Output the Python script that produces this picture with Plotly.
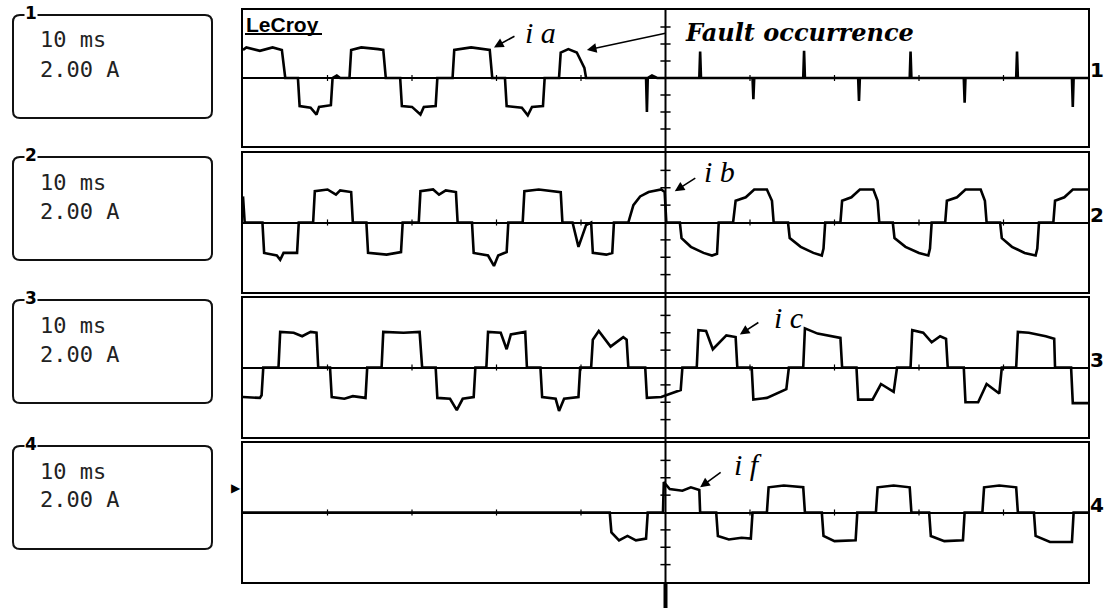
import plotly.graph_objects as go

# ---------------- data (time in ms, current in A; 10 ms/div, 2 A/div) ----------------
t_a = [-50, -49.6, -48, -46.5, -45.4, -45.0, -43.5, -43.3, -42, -41.3, -41.0, -39.6, -39.4, -38.9, -38.5,
       -37.4, -37.2, -36, -34, -33.4, -33.1, -31.4, -31.2, -30, -29.0, -28.6, -27.2, -27.0, -25.2, -25.0,
       -23, -20.8, -20.5, -19.0, -18.8, -17, -16.3, -15.8, -14.5, -14.3, -12.6, -12.4, -11.5, -10.5, -9.6,
       -9.4, -2.3, -2.2, -2.1, -1.6, -1.0,
       4.0, 4.1, 4.2, 10.3, 10.4, 10.5, 16.3, 16.4, 16.5, 22.8, 22.9, 23.0, 28.9, 29.0, 29.1,
       35.3, 35.4, 35.5, 41.5, 41.6, 41.7, 48.1, 48.2, 48.3, 50]
i_a = [3.3, 3.6, 3.2, 3.6, 3.3, 0, 0, -3.3, -3.5, -4.3, -3.4, -3.2, 0, 0.3, 0,
       0, 3.3, 3.6, 3.4, 3.3, 0, 0, -3.3, -3.4, -4.3, -3.4, -3.3, 0, 0, 3.3,
       3.6, 3.3, 0, 0, -3.3, -3.5, -4.4, -3.4, -3.3, 0, 0, 3.0, 3.4, 3.0, 1.2,
       0, 0, -4.0, 0, 0.3, 0,
       0, 3.1, 0, 0, -2.5, 0, 0, 3.2, 0, 0, -2.7, 0, 0, 3.1, 0,
       0, -2.9, 0, 0, 3.1, 0, 0, -3.4, 0, 0]

t_b = [-50, -49.8, -47.7, -47.5, -46, -45.6, -45.2, -43.6, -43.4, -41.7, -41.5, -40, -39, -38.5, -37.2,
       -37.0, -35.4, -35.2, -33, -31.3, -31.1, -29.2, -29.0, -27.5, -26.8, -26, -24.8, -24.6, -22.9, -22.7,
       -21, -20.3, -19.8, -18.8, -18.6, -16.9, -16.7, -15, -12.4, -12.2, -11.0, -10.3, -9.4, -8.8, -8.6,
       -7, -6.3, -6.1, -4.4, -3.8, -3.0, -2.0, -0.5, -0.1, 0.1,
       1.7, 1.9, 3, 4.5, 5.5, 6.1, 6.3, 8.0, 8.3, 9.5, 10.5, 12.0, 12.6, 12.8,
       14.5, 14.7, 16, 17.5, 18.5, 18.7, 18.9, 20.7, 20.9, 22, 23, 24.6, 25.1, 25.3,
       26.9, 27.1, 28.4, 30, 31.1, 31.3, 31.5, 33.1, 33.3, 34.5, 35.5, 37.3, 37.8, 38.0,
       39.6, 39.8, 41, 42.5, 43.8, 44.0, 44.2, 45.9, 46.1, 47.2, 48.2, 50]
i_b = [3.0, 0, 0, -3.5, -3.8, -4.3, -3.5, -3.5, 0, 0, 3.6, 3.8, 3.2, 3.7, 3.5,
       0, 0, -3.5, -3.7, -3.4, 0, 0, 3.6, 3.8, 3.2, 3.7, 3.5, 0, 0, -3.5,
       -3.8, -5.0, -3.8, -3.4, 0, 0, 3.6, 3.8, 3.5, 0, 0, -2.8, -0.3, 0, -3.5,
       -3.7, -3.5, 0, 0, 2.0, 3.0, 3.5, 3.8, 3.5, 0,
       0, -1.8, -2.8, -3.5, -3.8, -3.6, 0, 0, 2.5, 2.9, 3.8, 3.8, 2.5, 0,
       0, -1.8, -2.8, -3.5, -3.8, -3.0, 0, 0, 2.5, 2.9, 3.8, 3.8, 2.5, 0,
       0, -1.8, -2.8, -3.5, -3.8, -3.0, 0, 0, 2.5, 2.9, 3.8, 3.8, 2.5, 0,
       0, -1.8, -2.8, -3.5, -3.8, -3.0, 0, 0, 2.5, 2.9, 3.8, 3.8]

t_c = [-50, -48, -47.8, -47.6, -45.8, -45.6, -44, -43, -42, -41.3, -41.1, -39.7, -39.5, -38, -37, -35.5,
       -35.3, -33.6, -33.4, -31, -29.1, -28.8, -27.2, -27.0, -25.5, -24.7, -24.0, -22.7, -22.5, -21.2,
       -21.0, -19.5, -18.8, -18.3, -16.6, -16.4, -14.8, -14.6, -13, -12.6, -12, -10.3, -10.1, -8.8, -8.6,
       -7.9, -6.5, -5.0, -4.6, -4.4, -2.4, -2.2, -0.5, 1.8, 2.0,
       3.7, 3.9, 4.8, 5.6, 7.2, 8.3, 8.5, 10.2, 10.4, 12, 14.3, 14.6, 16.3, 16.5, 18, 20.7, 20.9,
       22.6, 22.8, 24.5, 25.5, 27.0, 27.4, 29.0, 29.2, 30.5, 31.5, 32.5, 33.2, 33.4, 35.3, 35.5, 37,
       38, 39.5, 39.8, 41.5, 41.7, 43, 45, 46.0, 46.1, 48.0, 48.2, 50]
i_c = [-3.4, -3.5, -3.2, 0, 0, 4.1, 4.0, 3.6, 4.1, 4.0, 0, 0, -3.4, -3.6, -3.3, -3.5,
       0, 0, 4.1, 4.0, 4.1, 0, 0, -3.5, -3.6, -4.9, -3.6, -3.4, 0, 0,
       4.1, 4.0, 2.1, 3.8, 4.1, 0, 0, -3.4, -3.6, -5.0, -3.6, -3.4, 0, 0, 3.2,
       4.2, 2.4, 3.5, 3.2, 0, 0, -3.5, -3.4, -2.6, 0,
       0, 4.3, 4.2, 2.1, 3.7, 3.5, 0, 0, -3.7, -3.5, -2.5, 0, 0, 4.5, 3.9, 3.4, 0,
       0, -3.7, -3.7, -1.9, -2.8, 0, 0, 4.3, 4.0, 2.9, 3.6, 3.3, 0, 0, -4.0, -4.0,
       -1.9, -3.0, 0, 0, 4.1, 4.0, 3.6, 3.3, 0, 0, -4.1, -4.1]

t_f = [-50, -6.6, -6.4, -5.5, -4.5, -3.5, -2.3, -2.1, -0.3, -0.2, 0.5, 2, 3, 4.0, 4.1,
       6.0, 6.2, 7.5, 9, 10.1, 10.3, 12.0, 12.2, 14, 16.3, 16.5, 18.5, 18.7, 20, 22.5, 22.7,
       24.9, 25.1, 27, 28.9, 29.1, 31.2, 31.4, 33, 35.2, 35.4, 37.5, 37.7, 39.5, 41.5, 41.7,
       43.6, 43.8, 45.5, 48.1, 48.3, 50]
i_f = [0, 0, -2.3, -3.2, -2.7, -3.2, -3.0, 0, 0, 3.5, 2.7, 2.5, 2.9, 2.6, 0,
       0, -2.7, -3.1, -2.9, -3.0, 0, 0, 2.9, 3.1, 2.9, 0, 0, -2.7, -3.3, -3.2, 0,
       0, 2.9, 3.1, 2.9, 0, 0, -2.7, -3.3, -3.2, 0, 0, 2.9, 3.1, 2.9, 0,
       0, -2.7, -3.4, -3.4, 0, 0]

channel_names = ["1", "2", "3", "4"]
timebase_label = "10 ms"
scale_label = "2.00 A"
v_ticks = [-6, -4, -2, 2, 4, 6]
h_ticks = [-40, -30, -20, -10, 10, 20, 30, 40]

# ---------------- layout geometry ----------------
W, H = 1104, 608
def px(x): return x / W
def py(y): return 1 - y / H

panels = [(10, 146), (153, 292), (298, 437), (443, 582)]
x_dom = [px(243), px(1088)]
box_tops = [15, 157, 300, 446]
box_h = 103

fig = go.Figure()
series = [(t_a, i_a), (t_b, i_b), (t_c, i_c), (t_f, i_f)]
for k, (t, i) in enumerate(series):
    sfx = "" if k == 0 else str(k + 1)
    fig.add_trace(go.Scatter(x=t, y=i, mode="lines", line=dict(color="black", width=2.6),
                             xaxis="x" + sfx, yaxis="y" + sfx, showlegend=False, hoverinfo="skip"))

shapes = []
annotations = []
layout_axes = {}
for k, (top, bot) in enumerate(panels):
    sfx = "" if k == 0 else str(k + 1)
    layout_axes["xaxis" + sfx] = dict(domain=x_dom, range=[-50, 50], showline=True, mirror=True,
                                      linecolor="black", linewidth=2, showgrid=False, zeroline=False,
                                      showticklabels=False, ticks="", anchor="y" + sfx, fixedrange=True)
    layout_axes["yaxis" + sfx] = dict(domain=[py(bot), py(top)], range=[-8, 8], showline=True, mirror=True,
                                      linecolor="black", linewidth=2, showgrid=False, zeroline=True,
                                      zerolinecolor="black", zerolinewidth=1.5,
                                      showticklabels=False, ticks="", anchor="x" + sfx, fixedrange=True)
    xr, yr = "x" + sfx, "y" + sfx
    for v in v_ticks:
        shapes.append(dict(type="line", xref=xr, yref=yr, x0=-0.6, x1=0.6, y0=v, y1=v,
                           line=dict(color="black", width=1.5)))
    for h in h_ticks:
        shapes.append(dict(type="line", xref=xr, yref=yr, x0=h, x1=h, y0=-0.35, y1=0.35,
                           line=dict(color="black", width=1.2)))
    # right channel label
    annotations.append(dict(text="<b>%s</b>" % channel_names[k], xref="paper", yref="paper",
                            x=px(1088), y=py((top + bot) / 2 - 8), xanchor="left", yanchor="middle",
                            showarrow=False, font=dict(family="DejaVu Sans", size=20, color="black")))
    # left info box (rounded)
    bt = box_tops[k]
    bb = bt + box_h
    x0, x1 = px(13), px(212)
    y0, y1 = py(bb), py(bt)
    rx, ry = 7 / W, 7 / H
    path = (f"M {x0+rx},{y1} L {x1-rx},{y1} Q {x1},{y1} {x1},{y1-ry} L {x1},{y0+ry} "
            f"Q {x1},{y0} {x1-rx},{y0} L {x0+rx},{y0} Q {x0},{y0} {x0},{y0+ry} L {x0},{y1-ry} "
            f"Q {x0},{y1} {x0+rx},{y1} Z")
    shapes.append(dict(type="path", xref="paper", yref="paper", path=path,
                       line=dict(color="#111", width=2)))
    annotations.append(dict(text="<b>%s</b>" % channel_names[k], xref="paper", yref="paper",
                            x=px(24), y=py(bt - 2), xanchor="left", yanchor="middle", showarrow=False,
                            bgcolor="white", borderpad=0,
                            font=dict(family="DejaVu Sans", size=17, color="black")))
    annotations.append(dict(text=timebase_label, xref="paper", yref="paper", x=px(38), y=py(bt + 25),
                            xanchor="left", yanchor="middle", showarrow=False,
                            font=dict(family="DejaVu Sans Mono", size=22, color="#222")))
    annotations.append(dict(text=scale_label, xref="paper", yref="paper", x=px(38), y=py(bt + 54),
                            xanchor="left", yanchor="middle", showarrow=False,
                            font=dict(family="DejaVu Sans Mono", size=22, color="#222")))

# centre vertical graticule line through all panels and below
shapes.append(dict(type="line", xref="x", yref="paper", x0=0, x1=0, y0=0, y1=py(10),
                   line=dict(color="black", width=2)))
shapes.append(dict(type="line", xref="x", yref="paper", x0=0, x1=0, y0=0, y1=py(582),
                   line=dict(color="black", width=4)))
# LeCroy underline
shapes.append(dict(type="line", xref="paper", yref="paper", x0=px(245), x1=px(322), y0=py(34), y1=py(34),
                   line=dict(color="black", width=2)))

serif = "Liberation Serif"
annotations += [
    dict(text="<b>LeCroy</b>", xref="paper", yref="paper", x=px(244), y=py(24), xanchor="left",
         yanchor="middle", showarrow=False, font=dict(family="Liberation Sans", size=21, color="black")),
    # ia
    dict(text="", xref="x", yref="y", x=-20.3, y=3.6, ax=22, ay=-12, showarrow=True,
         arrowhead=2, arrowsize=1.2, arrowwidth=1.6, arrowcolor="black"),
    dict(text="<i>i a</i>", xref="x", yref="y", x=-14.8, y=5.4, showarrow=False,
         font=dict(family=serif, size=30, color="black")),
    # fault occurrence
    dict(text="", xref="x", yref="y", x=-9.3, y=3.3, ax=80, ay=-17, showarrow=True,
         arrowhead=2, arrowsize=1.2, arrowwidth=1.6, arrowcolor="black"),
    dict(text="<b><i>Fault occurrence</i></b>", xref="x", yref="y", x=2.1, y=5.4, xanchor="left",
         showarrow=False, font=dict(family="DejaVu Serif", size=24, color="black")),
    # ib
    dict(text="", xref="x2", yref="y2", x=1.1, y=3.6, ax=22, ay=-14, showarrow=True,
         arrowhead=2, arrowsize=1.2, arrowwidth=1.6, arrowcolor="black"),
    dict(text="<i>i b</i>", xref="x2", yref="y2", x=6.4, y=5.9, showarrow=False,
         font=dict(family=serif, size=30, color="black")),
    # ic
    dict(text="", xref="x3", yref="y3", x=8.8, y=3.8, ax=20, ay=-13, showarrow=True,
         arrowhead=2, arrowsize=1.2, arrowwidth=1.6, arrowcolor="black"),
    dict(text="<i>i c</i>", xref="x3", yref="y3", x=14.5, y=5.8, showarrow=False,
         font=dict(family=serif, size=30, color="black")),
    # if
    dict(text="", xref="x4", yref="y4", x=4.1, y=2.9, ax=22, ay=-16, showarrow=True,
         arrowhead=2, arrowsize=1.2, arrowwidth=1.6, arrowcolor="black"),
    dict(text="<i>i f</i>", xref="x4", yref="y4", x=9.8, y=5.5, showarrow=False,
         font=dict(family=serif, size=30, color="black")),
    # trigger marker
    dict(text="▶", xref="paper", yref="paper", x=px(229), y=py(497), showarrow=False,
         font=dict(family="DejaVu Sans", size=12, color="black")),
]

fig.update_layout(width=W, height=H, margin=dict(l=0, r=0, t=0, b=0), paper_bgcolor="white",
                  plot_bgcolor="white", shapes=shapes, annotations=annotations, showlegend=False,
                  **layout_axes)
fig.write_html("out.html", config={"displayModeBar": False},
               post_script="document.body.style.margin='0';document.body.style.overflow='hidden';")
